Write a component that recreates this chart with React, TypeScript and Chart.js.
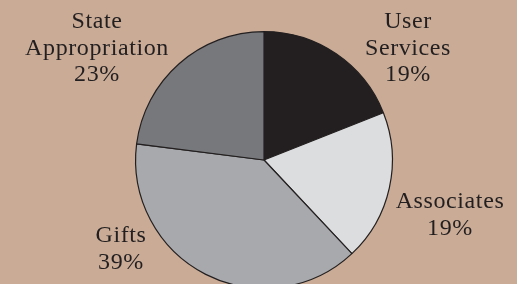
import React, { useEffect, useRef } from "react";
import { Chart, registerables } from "chart.js";

Chart.register(...registerables);

const categories = ["User Services", "Associates", "Gifts", "State Appropriation"];
const values = [19, 19, 39, 23];
const labelLines = [["User", "Services"], ["Associates"], ["Gifts"], ["State", "Appropriation"]];
const colors = ["#231f20", "#dcdddf", "#a7a9ac", "#77787b"];
// label anchors: center x, baseline y of first line
const labelAnchors = [
  [408, 28],
  [450, 208],
  [121, 242],
  [97, 28],
];

const BG = "#c9ab96";

const labelPlugin = {
  id: "sliceLabels",
  afterDraw(chart: any) {
    const ctx = chart.ctx;
    ctx.save();
    ctx.fillStyle = "#231f20";
    ctx.font = "24px 'Liberation Serif', serif";
    try {
      (ctx as any).letterSpacing = "0.6px";
    } catch (e) {}
    ctx.textAlign = "center";
    ctx.textBaseline = "alphabetic";
    const data = chart.data.datasets[0].data as number[];
    const total = data.reduce((a, b) => a + b, 0);
    categories.forEach((_, i) => {
      const [x, y] = labelAnchors[i];
      const lines = [...labelLines[i], Math.round((data[i] / total) * 100) + "%"];
      lines.forEach((t, j) => ctx.fillText(t, x, y + j * 26.5));
    });
    ctx.restore();
  },
};

export default function App() {
  const ref = useRef<HTMLCanvasElement>(null);
  useEffect(() => {
    document.body.style.margin = "0";
    const chart = new Chart(ref.current!, {
      type: "pie",
      data: {
        labels: categories,
        datasets: [
          {
            data: values,
            backgroundColor: colors,
            borderColor: "#231f20",
            borderWidth: 1.2,
          },
        ],
      },
      options: {
        animation: false,
        responsive: false,
        layout: { padding: { left: 135, right: 124, top: 31, bottom: 11 } },
        plugins: { legend: { display: false }, tooltip: { enabled: false } },
      },
      plugins: [labelPlugin],
    });
    return () => chart.destroy();
  }, []);
  return (
    <div style={{ position: "fixed", left: 0, top: 0, width: 517, height: 284, overflow: "hidden", background: BG }}>
      <canvas ref={ref} width={517} height={300} style={{ display: "block", width: 517, height: 300 }} />
    </div>
  );
}
